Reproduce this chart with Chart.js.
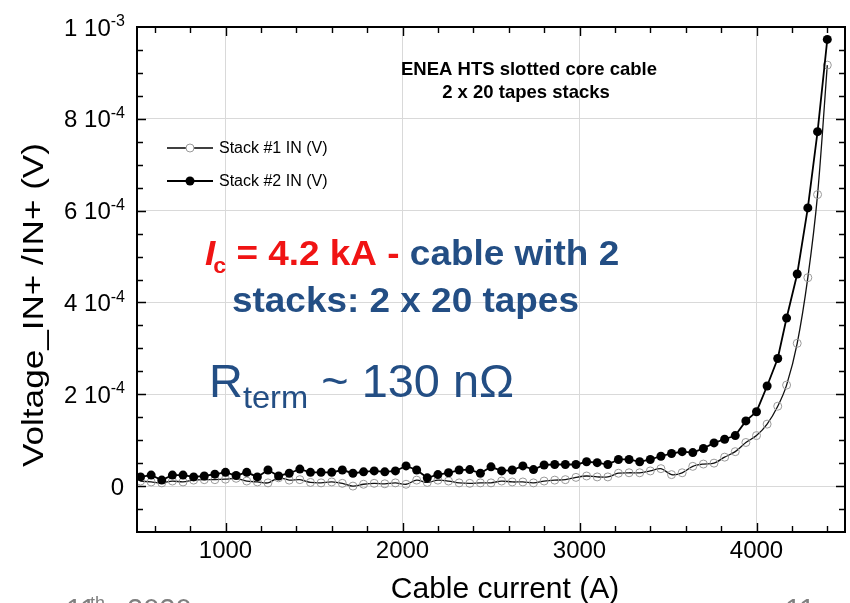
<!DOCTYPE html>
<html>
<head>
<meta charset="utf-8">
<script src="https://cdn.jsdelivr.net/npm/chart.js@4.4.1/dist/chart.umd.min.js"></script>
<style>
  html, body { margin: 0; padding: 0; background: #fff; }
  #wrap { width: 850px; height: 603px; }
</style>
</head>
<body>
<div id="wrap"><canvas id="chart" width="850" height="603"></canvas></div>
<script>
// cable current (A), same sweep for both stacks
const current = [520,580,640,700,760,820,880,940,1000,1060,1120,1180,1240,1300,1360,1420,1480,1540,1600,1660,
  1720,1780,1840,1900,1960,2020,2080,2140,2200,2260,2320,2380,2440,2500,2560,2620,2680,2740,2800,2860,
  2920,2980,3040,3100,3160,3220,3280,3340,3400,3460,3520,3580,3640,3700,3760,3820,3880,3940,4000,4060,
  4120,4170,4230,4290,4345,4400];

// voltages in microvolt
const stack1 = [11,9,7,11,9,13,14,14,15,17,11,9,7,18,13,14,8,7,9,6,0,4,6,5,7,4,13,8,13,11,7,6,7,
  7,11,9,9,7,11,13,14,19,22,20,20,28,29,29,33,38,25,
  29,43,48,50,63,75,95,110,135,174,220,311,454,635,917];
const stack2 = [20,24,13,24,24,20,22,26,30,23,30,20,35,22,28,37,30,30,30,35,28,31,33,31,33,44,35,18,25,29,35,36,28,
  42,33,35,44,36,46,47,47,47,53,51,47,58,58,53,58,65,71,75,73,82,94,102,110,142,162,218,278,366,462,606,772,973];

const seriesNames = ['Stack #1 IN (V)', 'Stack #2 IN (V)'];

const xTicks = [1000, 2000, 3000, 4000];
const yTicks = [0, 2e-4, 4e-4, 6e-4, 8e-4, 1e-3];
const yTickText = ['0', '2 10', '4 10', '6 10', '8 10', '1 10'];
const yTickExp = ['', '-4', '-4', '-4', '-4', '-3'];

const chartTitle = ['ENEA HTS slotted core cable', '2 x 20 tapes stacks'];
const xTitle = 'Cable current (A)';
const yTitle = 'Voltage_IN+ /IN+ (V)';

const FONT = "'Liberation Sans', Arial, sans-serif";
const BLUE = '#234e84';
const RED = '#f01414';

function toPoints(arr){ return arr.map((v, i) => ({ x: current[i], y: v * 1e-6 })); }

// text stretched horizontally by sx, returns drawn width
function wideText(ctx, txt, x, y, sx){
  ctx.save();
  ctx.translate(x, y);
  ctx.scale(sx, 1);
  ctx.fillText(txt, 0, 0);
  const w = ctx.measureText(txt).width * sx;
  ctx.restore();
  return w;
}

// frame, inward ticks, tick labels, titles, legend and notes
const decor = {
  id: 'decor',
  afterDraw(chart){
    const ctx = chart.ctx, a = chart.chartArea;
    const xs = chart.scales.x, ys = chart.scales.y;
    ctx.save();

    // inward ticks on all four sides
    ctx.strokeStyle = '#000';
    ctx.lineWidth = 1.4;
    ctx.beginPath();
    for (let v = 600; v <= 4400; v += 200){
      const px = Math.round(xs.getPixelForValue(v)) + 0.5;
      const len = (v % 1000 === 0) ? 9 : 6;
      ctx.moveTo(px, a.bottom); ctx.lineTo(px, a.bottom - len);
      ctx.moveTo(px, a.top); ctx.lineTo(px, a.top + len);
    }
    for (let k = -1; k <= 19; k++){
      const v = k * 0.5e-4;
      const py = Math.round(ys.getPixelForValue(v)) + 0.5;
      const len = (k % 4 === 0) ? 9 : 6;
      ctx.moveTo(a.left, py); ctx.lineTo(a.left + len, py);
      ctx.moveTo(a.right, py); ctx.lineTo(a.right - len, py);
    }
    ctx.stroke();

    // frame
    ctx.lineWidth = 2;
    ctx.strokeRect(a.left, a.top, a.right - a.left, a.bottom - a.top);

    // y tick labels with superscript exponent
    ctx.fillStyle = '#000';
    ctx.textBaseline = 'alphabetic';
    yTicks.forEach((v, i) => {
      const py = ys.getPixelForValue(v);
      const base = py + 8.6;
      let right = 125;
      if (yTickExp[i]){
        ctx.font = '16px ' + FONT;
        const w = ctx.measureText(yTickExp[i]).width;
        ctx.textAlign = 'left';
        ctx.fillText(yTickExp[i], right - w, base - 9.5);
        right = right - w;
      } else {
        right = 124;
      }
      ctx.font = '24px ' + FONT;
      ctx.textAlign = 'right';
      ctx.fillText(yTickText[i], right, base);
    });

    // axis titles
    ctx.font = '30px ' + FONT;
    ctx.textAlign = 'center';
    ctx.fillText(xTitle, 505, 598);
    ctx.save();
    ctx.translate(43, 305);
    ctx.rotate(-Math.PI / 2);
    ctx.scale(1.17, 1);
    ctx.fillText(yTitle, 0, 0);
    ctx.restore();

    // title inside plot
    ctx.font = 'bold 18.5px ' + FONT;
    ctx.fillText(chartTitle[0], 529, 75);
    ctx.fillText(chartTitle[1], 526, 98);

    // legend
    const ds = chart.data.datasets;
    [148, 181].forEach((ly, i) => {
      const d = ds[i];
      ctx.strokeStyle = '#000';
      ctx.lineWidth = d.borderWidth;
      ctx.beginPath(); ctx.moveTo(167, ly); ctx.lineTo(213, ly); ctx.stroke();
      ctx.beginPath(); ctx.arc(190, ly, d.pointRadius, 0, Math.PI * 2);
      if (i === 0){ ctx.fillStyle = '#fff'; ctx.fill(); ctx.strokeStyle = d.pointBorderColor; ctx.lineWidth = 1; ctx.stroke(); }
      else { ctx.fillStyle = '#000'; ctx.fill(); }
      ctx.fillStyle = '#000';
      ctx.font = '16px ' + FONT;
      ctx.textAlign = 'left';
      ctx.textBaseline = 'middle';
      ctx.fillText(d.label, 219, ly + 1);
    });

    // Ic annotation
    ctx.textBaseline = 'alphabetic';
    ctx.textAlign = 'left';
    const sx = 1.055;
    let x = 205;
    ctx.fillStyle = RED;
    ctx.font = 'italic bold 35px ' + FONT;
    x += wideText(ctx, 'I', x, 265, sx) - 2;
    ctx.font = 'bold 22px ' + FONT;
    x += wideText(ctx, 'c', x, 273, sx);
    ctx.font = 'bold 35px ' + FONT;
    x += wideText(ctx, ' = 4.2 kA - ', x, 265, sx);
    ctx.fillStyle = BLUE;
    wideText(ctx, 'cable with 2', x, 265, sx);
    wideText(ctx, 'stacks: 2 x 20 tapes', 232, 312, sx);

    // R term annotation
    x = 209;
    ctx.font = '46px ' + FONT;
    x += wideText(ctx, 'R', x, 397, 1.02);
    ctx.font = '32px ' + FONT;
    x += wideText(ctx, 'term', x, 408, 1.02);
    ctx.font = '46px ' + FONT;
    wideText(ctx, ' ~ 130 n\u03A9', x, 397, 1.02);

    // slide footer remnants, cut at the bottom edge
    ctx.fillStyle = '#7f7f7f';
    ctx.font = '29px ' + FONT;
    ctx.fillText('11', 66, 619);
    ctx.font = '18px ' + FONT;
    ctx.fillText('th', 90, 609);
    ctx.font = '29px ' + FONT;
    ctx.fillText('2020', 127, 619);
    ctx.fillText('11', 785, 619);

    ctx.restore();
  }
};

new Chart(document.getElementById('chart'), {
  type: 'line',
  data: {
    datasets: [
      {
        label: seriesNames[0],
        data: toPoints(stack1),
        borderColor: '#111',
        borderWidth: 1.3,
        tension: 0.3,
        pointRadius: 4,
        pointBorderWidth: 1,
        pointBorderColor: '#999',
        pointBackgroundColor: 'rgba(0,0,0,0)',
        order: 1
      },
      {
        label: seriesNames[1],
        data: toPoints(stack2),
        borderColor: '#000',
        borderWidth: 1.8,
        tension: 0,
        pointRadius: 4.5,
        pointBorderWidth: 0,
        pointBackgroundColor: '#000',
        order: 0
      }
    ]
  },
  options: {
    responsive: false,
    animation: false,
    events: [],
    layout: { padding: { top: 27, right: 3, left: 0, bottom: 0 } },
    plugins: { legend: { display: false }, tooltip: { enabled: false } },
    scales: {
      x: {
        type: 'linear',
        min: 500, max: 4500,
        afterBuildTicks: (s) => { s.ticks = xTicks.map(v => ({ value: v })); },
        afterFit: (s) => { s.height = 71; },
        grid: { color: '#d9d9d9', lineWidth: 1, drawTicks: false },
        border: { display: false },
        ticks: { color: '#000', padding: 5, maxRotation: 0, font: { family: FONT, size: 24 },
          callback: (v) => String(v) }
      },
      y: {
        type: 'linear',
        min: -1e-4, max: 1e-3,
        afterBuildTicks: (s) => { s.ticks = yTicks.map(v => ({ value: v })); },
        afterFit: (s) => { s.width = 137; },
        grid: { color: '#d9d9d9', lineWidth: 1, drawTicks: false },
        border: { display: false },
        ticks: { display: false }
      }
    }
  },
  plugins: [decor]
});
</script>
</body>
</html>
